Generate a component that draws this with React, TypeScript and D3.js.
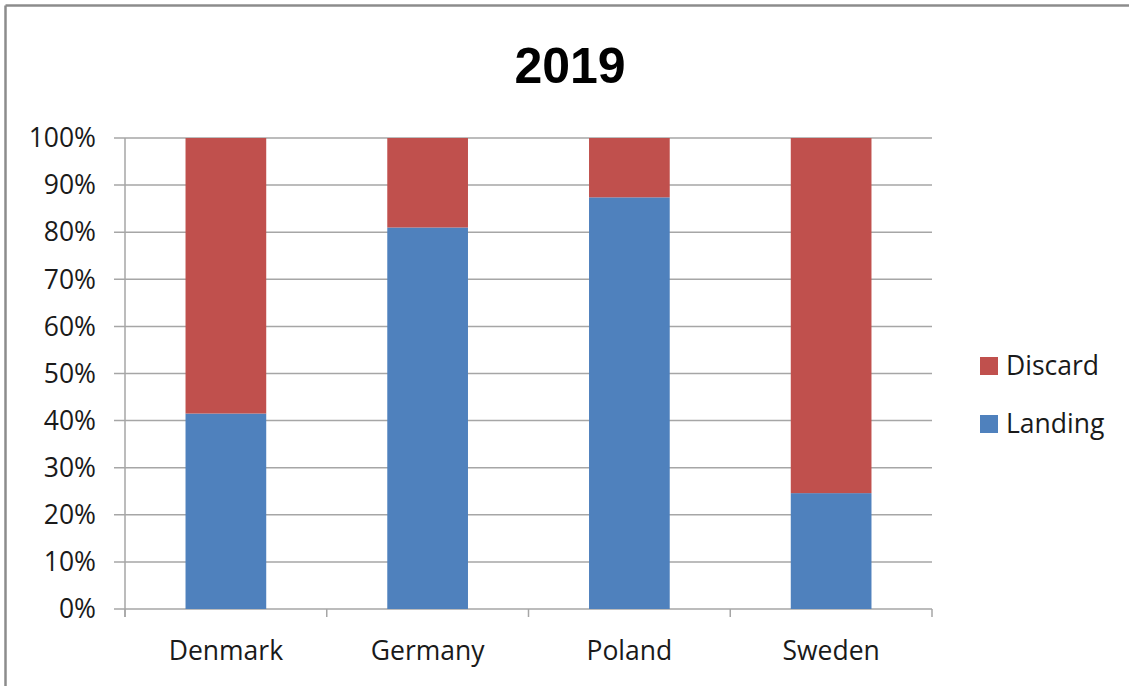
import * as d3 from 'd3';
import React from 'react';

const categories = ['Denmark', 'Germany', 'Poland', 'Sweden'];
const landing = [0.415, 0.81, 0.874, 0.246];
const discard = [0.585, 0.19, 0.126, 0.754];
const seriesNames = ['Landing', 'Discard'];
const seriesColours = ['#4F81BD', '#C0504D'];
const yTicks = [0, 0.1, 0.2, 0.3, 0.4, 0.5, 0.6, 0.7, 0.8, 0.9, 1];

const width = 1129;
const height = 686;
const font = '"Open Sans", "DejaVu Sans", sans-serif';

const App = () => {
    const x = d3.scaleBand<string>().domain(categories).range([125, 932]);
    const y = d3.scaleLinear().domain([0, 1]).range([609, 138]);
    const barWidth = x.bandwidth() * 0.4;

    const rows = categories.map((c, i) => ({ category: c, Landing: landing[i], Discard: discard[i] }));
    const stacked = d3.stack<any>().keys(seriesNames)(rows);
    const fmt = d3.format('.0%');
    const gridColour = '#a6a6a6';

    const edges = categories.map(c => x(c) as number).concat([x.range()[1]]);

    return (
        <svg width={width} height={height} style={{ position: 'absolute', left: 0, top: 0 }}>
            <rect x={0} y={0} width={width} height={height} fill="#fff" />
            {/* frame, only top and left visible */}
            <line x1={5.5} y1={5.5} x2={width} y2={5.5} stroke="#8c8c8c" strokeWidth={2.5} />
            <line x1={5.5} y1={5.5} x2={5.5} y2={height} stroke="#8c8c8c" strokeWidth={2.5} />

            <text x={570} y={83} textAnchor="middle" fontFamily="'Liberation Sans', Arial, sans-serif"
                fontWeight="bold" fontSize={50} fill="#000">2019</text>

            {yTicks.map(t => (
                <g key={t}>
                    <line x1={114} x2={932} y1={y(t)} y2={y(t)} stroke={gridColour} strokeWidth={1.5} />
                    <text x={96} y={y(t)} dy="0.35em" textAnchor="end" fontFamily={font}
                        fontSize={26.5} fill="#1a1a1a">{fmt(t)}</text>
                </g>
            ))}
            <line x1={125} x2={125} y1={138} y2={617} stroke={gridColour} strokeWidth={1.5} />
            {edges.map((e, i) => (
                <line key={i} x1={e} x2={e} y1={609} y2={617} stroke={gridColour} strokeWidth={1.5} />
            ))}

            {stacked.map((s, si) => (
                <g key={s.key} fill={seriesColours[si]}>
                    {s.map((d, i) => (
                        <rect key={i}
                            x={(x(categories[i]) as number) + (x.bandwidth() - barWidth) / 2}
                            y={y(d[1])}
                            width={barWidth}
                            height={y(d[0]) - y(d[1])} />
                    ))}
                </g>
            ))}

            {categories.map(c => (
                <text key={c} x={(x(c) as number) + x.bandwidth() / 2} y={660} textAnchor="middle"
                    fontFamily={font} fontSize={26.5} fill="#1a1a1a">{c}</text>
            ))}

            {['Discard', 'Landing'].map((name, i) => (
                <g key={name} transform={`translate(980, ${357 + i * 58})`}>
                    <rect width={18} height={18} fill={seriesColours[seriesNames.indexOf(name)]} />
                    <text x={26} y={9} dy="0.35em" fontFamily={font} fontSize={26.5} fill="#1a1a1a">{name}</text>
                </g>
            ))}
        </svg>
    );
};

export default App;
